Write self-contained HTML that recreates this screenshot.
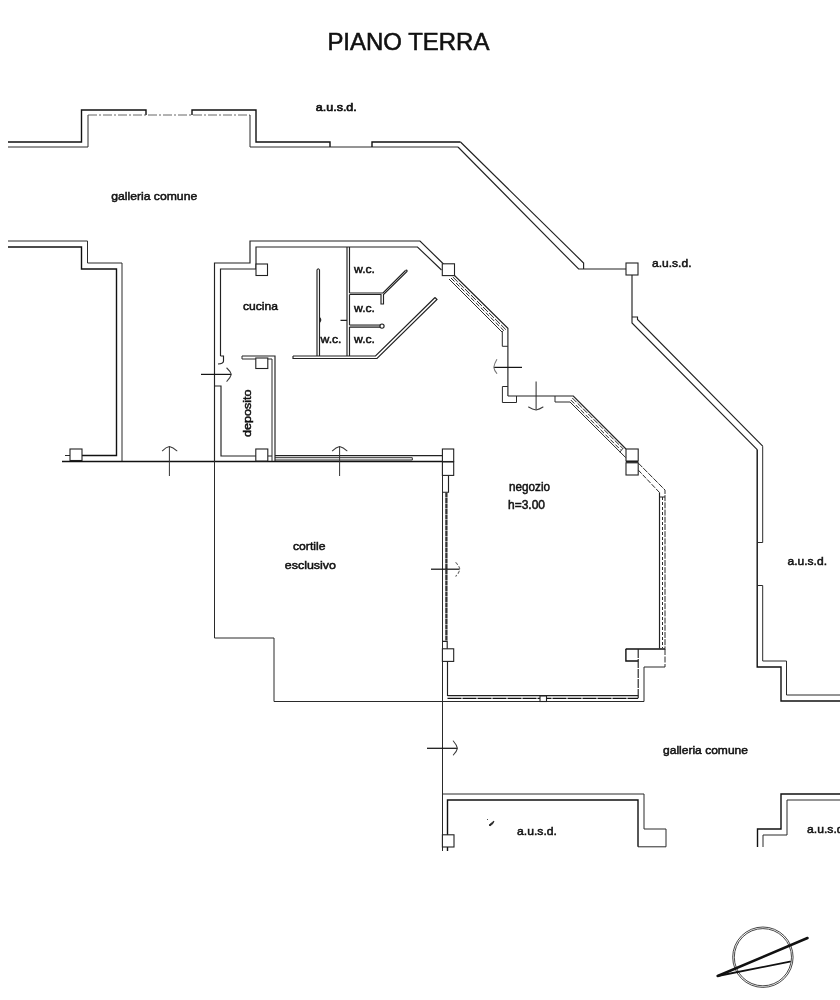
<!DOCTYPE html>
<html lang="it">
<head>
<meta charset="utf-8">
<title>PIANO TERRA</title>
<style>
html,body{margin:0;padding:0;background:#fff;}
body{width:840px;height:1000px;overflow:hidden;}
svg{display:block;filter:blur(0.35px);}
svg text{font-family:"Liberation Sans",Arial,sans-serif;fill:#111;}
.k{fill:none;stroke:#111;stroke-width:1.4;}
.m{fill:none;stroke:#222;stroke-width:1.15;}
.t{fill:none;stroke:#2a2a2a;stroke-width:1;}
.d{fill:none;stroke:#555;stroke-width:0.9;stroke-dasharray:9 2 2 2;}
.h{fill:none;stroke:#333;stroke-width:2.3;stroke-dasharray:5 0.5;}
.w{fill:#fff;stroke:#222;stroke-width:1.1;}
.l{font-size:11.6px;stroke:#111;stroke-width:0.5;}
</style>
</head>
<body>
<svg width="840" height="1000" viewBox="0 0 840 1000">
<rect width="840" height="1000" fill="#fff"/>

<!-- TITLE -->
<text x="327.4" y="49.5" font-size="23.2" textLength="162" lengthAdjust="spacingAndGlyphs" stroke="#111" stroke-width="0.55">PIANO TERRA</text>

<!-- TOP WALL -->
<g id="topwall">
<path class="k" d="M8,142H81.5V110H146V115"/>
<path class="t" d="M8,147H88V115"/>
<path class="d" d="M88,115H250"/>
<path class="k" d="M192,115V110H256V142H330V147"/>
<path class="t" d="M250,115V147H458"/>
<path class="m" d="M458,147L578.6,269H626"/>
<path class="k" d="M372,147V142H460.5"/>
<path class="m" d="M460.5,142L583.6,263V269"/>
<rect class="w" x="626" y="263" width="12" height="12"/>
<path class="m" d="M632,275V323L757.2,449.6"/>
<path class="m" d="M632,317H637.5V319.5L762.7,446.2"/>
</g>

<!-- RIGHT WALL -->
<g id="rightwall">
<path class="k" d="M757.2,449.6V667H781V701H840"/>
<path class="t" d="M762.7,446.2V542.5H757.2"/>
<path class="t" d="M757.2,585.5H762.7V661H786.5V695H840"/>
</g>

<!-- LEFT WALL -->
<g id="leftwall">
<path class="t" d="M8,241H87.5V263H122V461"/>
<path class="k" d="M8,247H81.5V269H116.5V455.5H82"/>
<path class="t" d="M65,455.5H70"/>
<rect class="w" x="70" y="449" width="12" height="11.5"/>
</g>

<!-- MAIN HORIZONTAL -->
<path class="k" d="M62,461.5H454" stroke-width="1.7"/>

<!-- SHOP OUTLINE -->
<g id="shop">
<path class="m" d="M214.5,461V263H250V241H420L443.5,264"/>
<path class="t" d="M214.5,461V638H274V701.5H644V667H665"/>
<path class="m" d="M220.5,356V269H256V247H417.5L441.5,270"/>
<path class="m" d="M220.5,356H223.5V361Q223.5,363.6 218,364"/>
<path class="m" d="M214.5,386H221V456H256M268,456H272"/>
<rect class="w" x="256" y="264" width="11.5" height="11.5"/>
<!-- deposito -->
<path class="m" d="M242,356H275V461"/>
<path class="t" d="M242,356V359H272V461"/>
<rect class="w" x="255.8" y="358" width="12" height="10.5"/>
<rect class="w" x="255.8" y="449" width="12" height="12"/>
<!-- kitchen partitions -->
<path class="m" d="M317,356V270Q318.2,267.5 319.5,270V356"/>
<path class="m" d="M319.5,317.5Q322,320 319.5,322.5M340.5,320.3H347" stroke-width="1.5"/>
<path class="m" d="M347,247V356M349.5,247V293M349.5,294.5V325M349.5,327V356"/>
<path class="m" d="M293,356H375.5L435,297.5"/>
<path class="m" d="M293,356V358.5H377L437,299.5L435,297.5"/>
<path class="m" d="M349.5,293H383L405.5,270.5"/>
<path class="m" d="M349.5,294.5H381V304H383.5V294.5L407,271.5Q407.5,269.5 405.5,270.5"/>
<path class="m" d="M349.5,325H380.5M380.5,327.2H349.5"/>
<path d="M349.5,326.1H380" stroke="#555" stroke-width="1" fill="none"/>
<circle cx="382" cy="326.1" r="2.1" class="m"/>
<!-- columns and diagonal window NW -->
<rect class="w" x="442.3" y="263.8" width="12.2" height="11.8"/>
<path class="m" d="M454.5,275.5L507.9,328.3V396"/>
<path class="t" d="M449,279L502,332"/>
<path class="t" d="M452.8,277L505.8,329.6" stroke-dasharray="7 1.5"/>
<path class="t" d="M451,278L504,330.8" stroke-dasharray="5 2"/>
<path class="t" d="M502.3,331V346.3H507.9"/>
<path class="t" d="M507.9,386.5H502.4V402.5H516.5V396"/>
<path class="m" d="M507.9,396H573.3L626,449"/>
<path class="t" d="M555,396V402H570L625.7,457.6"/>
<path class="t" d="M572.3,398L622.6,448.3" stroke-dasharray="6 1.5"/>
<path class="t" d="M570.8,400L620.8,450" stroke-dasharray="5 2"/>
<path class="t" d="M619.8,452.2L623.2,448"/>
<rect class="w" x="626" y="449" width="12.2" height="12"/>
<rect class="w" x="626" y="462.8" width="12.2" height="12.2"/>
<path class="k" d="M626,461.8H638.2" stroke-width="2"/>
<path class="t" d="M638.2,463L665,490V648.5" stroke-dasharray="6 1.2"/>
<path class="t" d="M638.2,470L659.5,492.5" stroke-dasharray="5 1.5"/>
<path class="m" d="M659.5,492.5V648.5M659.5,497H665"/>
<path class="t" d="M662.5,497V648" stroke-dasharray="3 2" stroke="#777"/>
<path class="k" d="M625.7,649H665.3" stroke-width="2"/>
<path class="k" d="M625.9,649V661H638.2"/>
<path class="t" d="M665,649V667" stroke-dasharray="6 1.5"/>
<path class="m" d="M638.2,649V698.4" stroke-dasharray="9 1"/>
<!-- bottom wall -->
<path class="m" d="M447.5,695.6H638.2"/>
<path class="k" d="M447.5,698.4H638.2" stroke-dasharray="14 1"/>
<rect class="w" x="540" y="696" width="6.5" height="5.5"/>
<!-- west window wall -->
<path class="t" d="M442.5,449V851"/>
<rect class="w" x="442.4" y="449" width="11.3" height="12.5"/>
<rect class="w" x="442.4" y="462" width="11.3" height="13.4"/>
<path class="m" d="M448.5,475.4V492.2H442.5"/>
<path class="h" d="M446.4,492.5V641"/>
<path class="m" d="M442.5,641.3H447.2V649"/>
<rect class="w" x="442.4" y="648.8" width="11.3" height="12.6" stroke-width="1.5"/>
<path class="m" d="M447.5,661.4V696"/>
<!-- north window (courtyard side) -->
<path class="m" d="M275,455.6H442.4"/>
<path class="t" d="M275,457.7H412.3V460H275"/>
</g>

<!-- BOTTOM STRUCTURES -->
<g id="bottom">
<path class="t" d="M442.5,794H644V829H666V846.8H638"/>
<path class="k" d="M447.5,851V800H638V846.8"/>
<rect class="w" x="442.4" y="834.8" width="11.6" height="12.2"/>
<path class="k" d="M840,794H781V829H757.5V847"/>
<path class="t" d="M840,800H787V835H763V847"/>
</g>

<!-- ARROWS -->
<g id="arrows" fill="none" stroke="#151515" stroke-width="1.25">
<path d="M169.4,446.6V476" stroke-width="1" stroke="#333"/>
<path d="M339.6,446.6V476" stroke-width="1" stroke="#333"/>
<path d="M201,374.4H231"/>
<path d="M431,569.2H459.5"/>
<path d="M427,748.3H457.2"/>
<path d="M522,367.4H494"/>
<path d="M536.1,381.5V409.8" stroke-width="1.05" stroke="#333"/>
</g>
<g id="arrowheads" fill="none" stroke="#3a3a3a" stroke-width="1.05" stroke-linecap="round">
<path d="M162.4,450.8Q166,447.2 169.4,446.5Q173,447.2 176.9,450.8"/>
<path d="M332.4,450.8Q336,447.2 339.6,446.5Q343.2,447.2 347,450.8"/>
<path d="M226.8,368Q230.6,371.5 231.3,374.4Q230.6,377.5 226.8,381.3"/>
<path d="M455.8,562.5Q459.3,566 459.8,569.2Q459.3,572.5 455.8,576.2" stroke-dasharray="2.5 2.5" stroke="#666"/>
<path d="M453.3,741Q456.8,745 457.4,748.3Q456.8,751.5 453.3,755"/>
<path d="M496.8,359.6Q494.3,363.8 493.8,367.4Q494.3,370.6 496.8,373.4" stroke="#777"/>
<path d="M528.6,407Q532.6,409.4 536.1,409.9Q539.6,409.4 543,407"/>
</g>

<!-- LABELS -->
<g class="l">
<text x="315.8" y="110.8" textLength="41" stroke-width="0.7" lengthAdjust="spacingAndGlyphs">a.u.s.d.</text>
<text x="652" y="267.4" textLength="39.5" lengthAdjust="spacingAndGlyphs">a.u.s.d.</text>
<text x="787.5" y="565.3" textLength="39.5" lengthAdjust="spacingAndGlyphs">a.u.s.d.</text>
<text x="517" y="835.4" textLength="40" lengthAdjust="spacingAndGlyphs">a.u.s.d.</text>
<text x="807" y="832.5" textLength="40" lengthAdjust="spacingAndGlyphs">a.u.s.d.</text>
<text x="111.2" y="200.3" textLength="86" lengthAdjust="spacingAndGlyphs">galleria comune</text>
<text x="663" y="754" textLength="85" lengthAdjust="spacingAndGlyphs">galleria comune</text>
<text x="243" y="310.3" textLength="35" lengthAdjust="spacingAndGlyphs">cucina</text>
<text x="354" y="273.1" textLength="21" lengthAdjust="spacingAndGlyphs">w.c.</text>
<text x="354" y="312.4" textLength="21" lengthAdjust="spacingAndGlyphs">w.c.</text>
<text x="354" y="342.8" textLength="21" lengthAdjust="spacingAndGlyphs">w.c.</text>
<text x="320.5" y="342.8" textLength="21" lengthAdjust="spacingAndGlyphs">w.c.</text>
<text transform="translate(251,437) rotate(-90)" textLength="47.5" lengthAdjust="spacingAndGlyphs">deposito</text>
<text x="509" y="490.9" font-size="12.5" textLength="41" lengthAdjust="spacingAndGlyphs">negozio</text>
<text x="508" y="509.2" font-size="12" textLength="37" lengthAdjust="spacingAndGlyphs">h=3.00</text>
<text x="293" y="550" font-size="11.4" textLength="32.5" lengthAdjust="spacingAndGlyphs">cortile</text>
<text x="284.8" y="568.7" font-size="11.4" textLength="51.2" lengthAdjust="spacingAndGlyphs">esclusivo</text>
</g>

<!-- smudge -->
<path d="M489,825L494,821L493,823.5L490,826Z M487,819l1,1" fill="#222" stroke="#222" stroke-width="0.8"/>

<!-- NORTH SYMBOL -->
<g id="north" fill="none">
<circle cx="762.9" cy="957.2" r="30.2" stroke="#333" stroke-width="0.9"/>
<circle cx="762.9" cy="957.2" r="28.6" stroke="#333" stroke-width="0.9"/>
<path d="M717.7,976L807.5,938" stroke="#111" stroke-width="2.5" stroke-linecap="round"/>
<path d="M717.7,976L790,961.6" stroke="#111" stroke-width="1.8" stroke-linecap="round"/>
</g>
</svg>
</body>
</html>
